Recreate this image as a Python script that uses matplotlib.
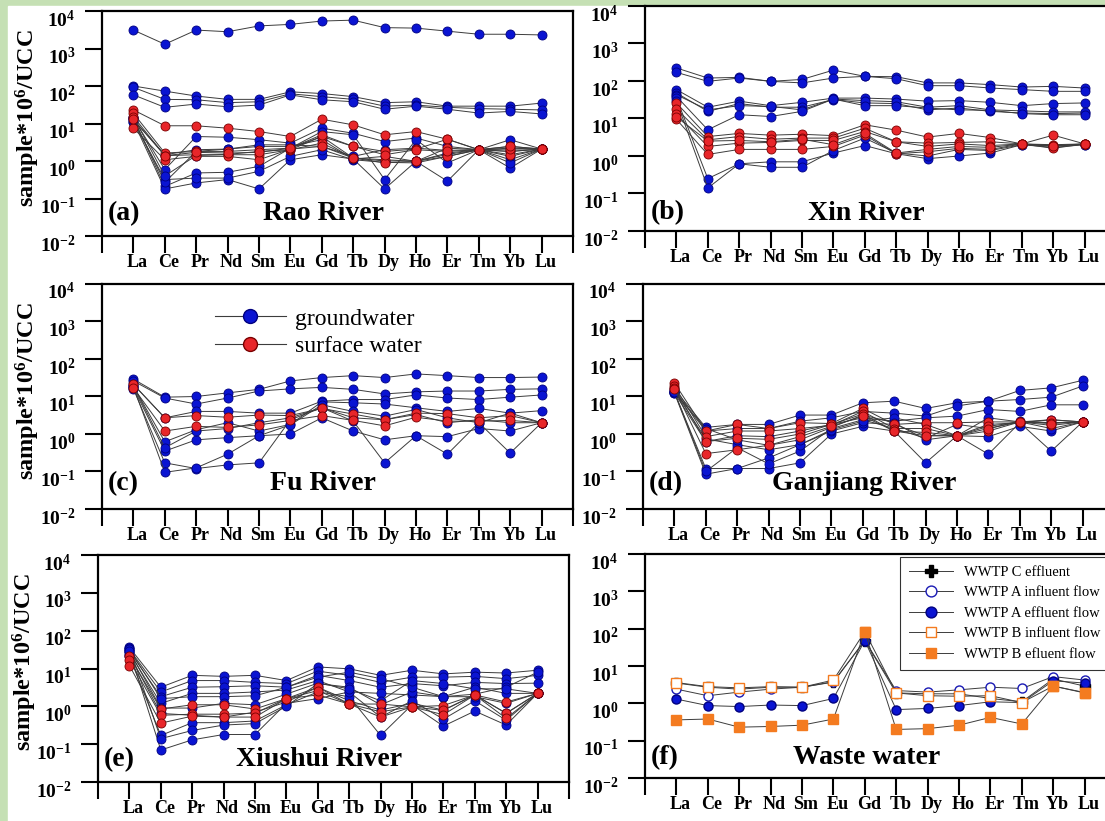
import numpy as np
import matplotlib
matplotlib.use('Agg')
import matplotlib.pyplot as plt
from matplotlib.lines import Line2D
from matplotlib.patches import Rectangle
from matplotlib.ticker import NullLocator
from matplotlib.transforms import ScaledTranslation

plt.rcParams['font.family'] = ['Liberation Serif', 'DejaVu Serif']
plt.rcParams['mathtext.fontset'] = 'custom'
plt.rcParams['mathtext.rm'] = 'Liberation Serif:bold'
plt.rcParams['mathtext.it'] = 'Liberation Serif:bold:italic'
plt.rcParams['mathtext.bf'] = 'Liberation Serif:bold'

# REE order
ree = ['La', 'Ce', 'Pr', 'Nd', 'Sm', 'Eu', 'Gd', 'Tb', 'Dy', 'Ho', 'Er', 'Tm', 'Yb', 'Lu']

# (a) Rao River
rao_gw = [
    [3100, 1300, 3100, 2800, 4000, 4400, 5400, 5700, 3600, 3500, 2900, 2400, 2400, 2300],
    [100, 73, 54, 44, 44, 70, 63, 52, 36, 38, 29, 29, 29, 35],
    [92, 44, 43, 36, 38, 62, 52, 44, 29, 31, 27, 25, 24, 23],
    [58, 27, 33, 28, 31, 58, 43, 38, 24, 29, 24, 19, 21, 18],
    [13.9, 0.59, 4.5, 4.3, 3.7, 3.0, 7.5, 5.5, 3.3, 4.1, 2.45, 2.0, 3.7, 2.08],
    [13.9, 0.21, 0.48, 0.5, 0.72, 2.2, 6.1, 5.0, 0.32, 3.7, 0.89, 2.0, 0.65, 2.08],
    [11.3, 0.18, 0.26, 0.32, 0.18, 1.08, 1.47, 1.13, 0.18, 0.98, 0.29, 2.0, 1.08, 2.08],
    [11.3, 0.32, 0.35, 0.35, 0.53, 1.33, 2.0, 1.08, 0.92, 0.89, 1.33, 2.0, 0.89, 2.08],
    [13.0, 0.27, 1.8, 2.08, 2.45, 2.45, 3.7, 1.13, 1.33, 0.98, 1.63, 2.0, 1.33, 2.08],
    [12.5, 1.47, 2.0, 2.08, 2.7, 2.7, 2.45, 1.33, 2.0, 2.2, 1.92, 2.0, 2.2, 2.08],
    [15.0, 0.4, 1.4, 1.5, 1.8, 2.0, 4.5, 1.2, 1.0, 1.0, 1.5, 2.0, 1.8, 2.08],
]
rao_sw = [
    [23, 8.7, 8.7, 7.5, 6.1, 4.5, 13, 9.2, 5.0, 6.1, 3.8, 2.0, 2.45, 2.08],
    [18.8, 1.63, 1.8, 1.8, 2.0, 2.2, 4.5, 2.45, 1.8, 2.08, 3.8, 2.0, 1.8, 2.08],
    [15.3, 1.39, 1.47, 1.47, 1.47, 2.0, 3.0, 1.2, 1.08, 0.98, 2.2, 2.0, 1.47, 2.08],
    [7.5, 1.08, 1.33, 1.33, 1.08, 2.08, 2.45, 1.2, 0.89, 0.98, 1.33, 2.0, 2.08, 2.08],
    [13.0, 1.39, 1.7, 1.63, 1.7, 2.2, 5.0, 2.45, 1.47, 2.0, 1.8, 2.0, 2.45, 2.08],
]

# (b) Xin River
xin_gw = [
    [223, 120, 125, 98, 110, 195, 133, 130, 89, 89, 80, 69, 72, 65],
    [170, 98, 120, 98, 89, 120, 133, 115, 75, 75, 65, 59, 53, 53],
    [59, 20, 29, 22, 27, 35, 35, 33, 29, 30, 27, 22, 25, 26],
    [48, 15.5, 25, 20, 20, 32, 26, 25, 17, 19, 15.5, 14, 13.5, 14],
    [43, 17, 22, 21, 17, 33, 30, 28, 20, 22, 17, 16, 15, 15],
    [39, 5.0, 12.6, 11.3, 15.5, 33, 22, 22, 19, 17, 16.5, 13.5, 12.6, 12.6],
    [35, 0.25, 0.62, 0.7, 0.7, 1.2, 1.9, 1.15, 0.85, 1.0, 1.2, 2.0, 1.7, 2.0],
    [30, 0.14, 0.62, 0.5, 0.5, 1.4, 3.0, 1.2, 1.0, 1.5, 1.4, 2.0, 1.9, 2.0],
]
xin_sw = [
    [26, 3.3, 4.0, 3.6, 3.8, 3.5, 6.8, 4.9, 3.2, 4.0, 3.1, 2.1, 3.6, 2.1],
    [18, 2.7, 3.3, 2.8, 3.0, 3.0, 5.5, 2.4, 2.2, 2.3, 2.4, 2.1, 2.0, 2.1],
    [13, 1.8, 2.2, 2.3, 2.6, 2.6, 4.5, 2.4, 1.8, 2.1, 1.9, 2.1, 1.8, 2.1],
    [9.5, 1.1, 1.5, 1.5, 1.5, 1.8, 3.6, 1.15, 1.3, 1.6, 1.5, 2.1, 1.6, 2.1],
    [11, 2.5, 2.6, 2.4, 2.8, 2.0, 4.0, 1.2, 1.5, 1.8, 1.7, 2.1, 1.9, 2.1],
]

# (c) Fu River
fu_gw = [
    [29, 9.6, 10, 12.5, 15.5, 26, 32, 36, 32, 40, 36, 32, 32, 33],
    [26, 9.1, 6.3, 9.1, 14, 16, 17.5, 15.5, 11.7, 13.3, 14, 14, 15.5, 16],
    [21, 2.7, 4.0, 4.0, 3.6, 3.6, 7.5, 8.3, 8.3, 11, 9.1, 8.3, 9.6, 11],
    [19, 0.62, 1.3, 2.0, 1.2, 1.8, 7.2, 6.8, 6.3, 5.0, 4.0, 4.8, 3.6, 4.2],
    [17, 0.35, 0.7, 0.8, 0.9, 1.0, 2.7, 1.2, 0.7, 0.9, 0.85, 1.4, 1.2, 2.0],
    [16, 0.17, 0.12, 0.15, 0.17, 2.4, 5.0, 2.2, 0.17, 0.9, 0.29, 2.0, 0.31, 2.0],
    [18, 0.095, 0.125, 0.29, 0.9, 1.75, 6.0, 4.0, 3.0, 4.5, 2.7, 2.0, 3.6, 2.0],
    [19, 0.43, 1.2, 1.4, 2.0, 2.7, 5.0, 2.7, 2.4, 3.3, 2.0, 2.4, 2.0, 2.0],
]
fu_sw = [
    [21, 2.7, 3.1, 2.8, 3.2, 3.1, 4.8, 3.4, 2.4, 3.6, 3.5, 2.7, 3.1, 2.0],
    [17, 1.2, 1.6, 1.5, 1.75, 2.3, 3.1, 2.3, 1.65, 2.8, 2.2, 2.2, 2.3, 2.0],
]

# (d) Ganjiang River
gan_gw = [
    [15.5, 1.5, 1.8, 1.8, 3.2, 3.2, 6.8, 7.5, 4.8, 6.8, 7.5, 14.5, 17, 27],
    [14, 1.2, 1.4, 1.4, 2.2, 2.7, 4.0, 3.6, 3.0, 5.6, 7.5, 8.3, 9.6, 19],
    [12.5, 0.63, 0.9, 0.85, 1.2, 1.8, 2.7, 2.2, 2.7, 3.0, 4.5, 4.0, 6.0, 6.0],
    [13, 0.12, 0.12, 0.12, 0.17, 1.0, 1.6, 1.2, 0.17, 0.9, 0.29, 2.0, 0.35, 2.1],
    [12.5, 0.085, 0.12, 0.23, 0.52, 1.2, 2.0, 1.8, 0.9, 0.9, 0.85, 1.6, 1.2, 2.1],
    [13, 0.1, 0.43, 0.16, 0.35, 1.4, 2.4, 1.4, 0.77, 1.8, 1.4, 2.2, 2.0, 2.1],
    [14, 0.74, 0.52, 0.38, 0.52, 1.3, 2.2, 2.7, 1.8, 0.9, 2.7, 2.1, 1.4, 2.1],
    [13, 1.4, 0.7, 0.5, 0.7, 1.5, 3.2, 2.0, 0.7, 0.9, 1.8, 2.0, 2.4, 2.1],
]
gan_sw = [
    [23, 1.2, 1.8, 1.4, 2.0, 1.9, 4.8, 1.8, 2.0, 2.0, 2.1, 2.1, 2.4, 2.1],
    [19, 0.85, 1.2, 1.2, 1.4, 1.7, 4.0, 1.4, 1.4, 0.9, 1.6, 2.1, 2.0, 2.1],
    [17, 0.63, 0.77, 0.72, 1.0, 1.8, 3.4, 1.2, 1.1, 0.9, 1.2, 2.1, 1.7, 2.1],
    [16, 0.3, 0.38, 0.5, 0.85, 1.6, 3.0, 1.2, 0.9, 0.9, 1.4, 2.1, 1.9, 2.1],
]

# (e) Xiushui River
xiu_gw = [
    [36, 3.2, 6.6, 6.2, 6.6, 4.8, 11, 9.8, 6.6, 9.0, 7.2, 8.0, 7.6, 9.0],
    [32, 2.4, 4.8, 4.8, 4.3, 4.0, 8.5, 6.6, 4.3, 5.9, 5.9, 6.2, 5.4, 6.6],
    [29, 1.8, 3.2, 3.3, 3.5, 3.2, 6.6, 4.8, 3.2, 4.0, 3.5, 4.3, 4.0, 4.1],
    [26, 1.2, 2.2, 2.2, 2.4, 2.7, 4.8, 2.4, 2.2, 2.0, 1.8, 3.2, 2.2, 2.2],
    [23, 0.65, 0.58, 0.52, 0.7, 1.3, 3.2, 1.4, 0.8, 1.2, 0.8, 2.0, 0.65, 2.2],
    [21, 0.17, 0.37, 0.37, 0.41, 1.1, 2.4, 1.8, 0.17, 1.1, 0.3, 0.75, 0.32, 2.2],
    [29, 0.07, 0.13, 0.18, 0.18, 1.2, 1.6, 2.4, 0.52, 1.4, 0.46, 1.4, 0.43, 2.2],
    [35, 0.14, 0.23, 0.32, 0.35, 1.0, 4.0, 3.2, 1.1, 2.4, 1.8, 1.8, 1.2, 2.2],
    [32, 1.6, 1.8, 1.8, 1.9, 3.2, 5.9, 8.0, 5.4, 3.2, 1.8, 2.1, 3.2, 8.0],
    [29, 0.9, 0.9, 1.2, 1.1, 2.1, 4.1, 2.9, 1.4, 4.8, 4.0, 2.9, 2.9, 2.2],
]
xiu_sw = [
    [21, 0.85, 1.1, 1.1, 0.85, 1.6, 3.2, 1.15, 1.15, 0.97, 1.05, 2.0, 1.3, 2.2],
    [17, 0.58, 0.62, 0.62, 0.66, 1.6, 2.0, 1.15, 0.72, 0.97, 0.78, 2.0, 0.66, 2.2],
    [12, 0.36, 0.55, 0.52, 0.52, 1.6, 2.6, 1.15, 0.52, 0.97, 0.6, 2.0, 0.48, 2.2],
]

# (f) Waste water
wwtp_c_eff = [3.5, 2.7, 2.4, 2.7, 2.7, 3.7, 48, 1.9, 1.8, 1.8, 1.35, 1.1, 4.5, 2.9]
wwtp_a_inf = [2.4, 1.6, 2.0, 2.4, 2.7, 3.8, 48, 2.2, 2.0, 2.3, 2.7, 2.5, 5.2, 4.2]
wwtp_a_eff = [1.3, 0.87, 0.82, 0.9, 0.87, 1.35, 48, 0.68, 0.73, 0.87, 1.1, 1.05, 4.0, 3.5]
wwtp_b_inf = [3.6, 2.8, 2.6, 2.8, 2.7, 4.2, 83, 1.9, 1.6, 1.55, 1.6, 1.05, 2.9, 1.95]
wwtp_b_eff = [0.36, 0.38, 0.23, 0.24, 0.26, 0.38, 83, 0.2, 0.21, 0.26, 0.42, 0.28, 2.9, 1.9]

W, H = 1105, 821
blue = '#0a14d2'
blue_edge = '#000080'
red = '#e8262a'
red_edge = '#7a0000'
orange = '#f47b20'
line_col = '#3c3c3c'

fig = plt.figure(figsize=(W / 100, H / 100), dpi=100)
fig.patches.append(Rectangle((0, 0), 1, 1, transform=fig.transFigure,
                             color='#c5e0b4', zorder=-10))
fig.patches.append(Rectangle((8 / W, 0), 1, 1 - 6 / H, transform=fig.transFigure,
                             color='white', zorder=-9))

x = np.arange(1, 15)


def make_ax(left, top, width=471, height=225):
    return fig.add_axes([left / W, 1 - (top + height) / H, width / W, height / H])


def style(ax, tag, name, tag_y):
    ax.set_yscale('log')
    ax.set_ylim(1e-2, 1e4)
    ax.set_xlim(0, 15)
    ax.set_yticks([10.0 ** k for k in range(-2, 5)])
    ax.set_yticklabels([r'$10^{%d}$' % k for k in range(-2, 5)])
    ax.yaxis.set_minor_locator(NullLocator())
    ax.set_xticks(range(16))
    ax.set_xticklabels([''] + ree + [''], fontweight='bold')
    ax.tick_params(axis='y', direction='out', length=12, width=1.5,
                   labelsize=14, pad=7)
    ax.tick_params(axis='x', direction='out', length=12, width=1.5,
                   labelsize=13, pad=1)
    # labels in the original sit a bit right of / below their ticks
    for lab in ax.get_xticklabels():
        lab.set_transform(lab.get_transform() +
                          ScaledTranslation(4 / 100, 0, fig.dpi_scale_trans))
    for lab in ax.get_yticklabels():
        lab.set_transform(lab.get_transform() +
                          ScaledTranslation(0, -7 / 100, fig.dpi_scale_trans))
    for sp in ax.spines.values():
        sp.set_linewidth(1.6)
    ax.text(0.012, tag_y, tag, transform=ax.transAxes, fontsize=20,
            fontweight='bold', va='center', ha='left')
    ax.text(0.47, tag_y, name, transform=ax.transAxes, fontsize=20,
            fontweight='bold', va='center', ha='center')


def river(ax, gw, sw):
    for row in gw:
        ax.plot(x, row, color=line_col, lw=0.7, marker='o', ms=6.5,
                mfc=blue, mec=blue_edge, mew=0.6)
    for row in sw:
        ax.plot(x, row, color=line_col, lw=0.7, marker='o', ms=6.5,
                mfc=red, mec=red_edge, mew=0.6)


ax_a = make_ax(102, 11)
river(ax_a, rao_gw, rao_sw)
style(ax_a, '(a)', 'Rao River', 0.10)

ax_b = make_ax(645, 6)
river(ax_b, xin_gw, xin_sw)
style(ax_b, '(b)', 'Xin River', 0.08)

ax_c = make_ax(102, 284)
river(ax_c, fu_gw, fu_sw)
style(ax_c, '(c)', 'Fu River', 0.115)
leg_handles = [
    Line2D([], [], color=line_col, lw=0.8, marker='o', ms=10, mfc=blue, mec=blue_edge),
    Line2D([], [], color=line_col, lw=0.8, marker='o', ms=10, mfc=red, mec=red_edge),
]
ax_c.legend(leg_handles, ['groundwater', 'surface water'], loc='upper left',
            bbox_to_anchor=(0.22, 0.935), frameon=False, fontsize=17,
            handlelength=3.0, handletextpad=0.4, labelspacing=0.25,
            borderaxespad=0)

ax_d = make_ax(643, 284)
river(ax_d, gan_gw, gan_sw)
style(ax_d, '(d)', 'Ganjiang River', 0.115)

ax_e = make_ax(98, 555, height=227)
river(ax_e, xiu_gw, xiu_sw)
style(ax_e, '(e)', 'Xiushui River', 0.097)

ax_f = make_ax(645, 554, height=224)
ax_f.plot(x, wwtp_c_eff, color=line_col, lw=0.7, marker='P', ms=7, mfc='black', mec='black',
          label='WWTP C effluent')
ax_f.plot(x, wwtp_a_inf, color=line_col, lw=0.7, marker='o', ms=6.5, mfc='white', mec='#1a1ab4',
          mew=1.0, label='WWTP A influent flow')
ax_f.plot(x, wwtp_a_eff, color=line_col, lw=0.7, marker='o', ms=6.5, mfc=blue, mec=blue_edge,
          label='WWTP A effluent flow')
ax_f.plot(x, wwtp_b_inf, color=line_col, lw=0.7, marker='s', ms=6.5, mfc='white', mec=orange,
          mew=1.0, label='WWTP B influent flow')
ax_f.plot(x, wwtp_b_eff, color=line_col, lw=0.7, marker='s', ms=6.5, mfc=orange, mec=orange,
          label='WWTP B efluent flow')
style(ax_f, '(f)', 'Waste water', 0.09)
leg = ax_f.legend(loc='upper left', bbox_to_anchor=(900 / W, 1 - 557 / H),
                  bbox_transform=fig.transFigure, fontsize=10.5, frameon=True,
                  fancybox=False, edgecolor='black', handlelength=3.0,
                  borderaxespad=0, labelspacing=0.5, borderpad=0.6,
                  markerscale=1.2)
leg.get_frame().set_linewidth(0.8)

for yc, xc in ((118, 28), (391, 28), (662, 25)):
    fig.text(xc / W, 1 - yc / H, r'sample*10$^{6}$/UCC', rotation=90,
             fontsize=17.5, fontweight='bold', ha='center', va='center')

fig.savefig('out.png', dpi=100)
